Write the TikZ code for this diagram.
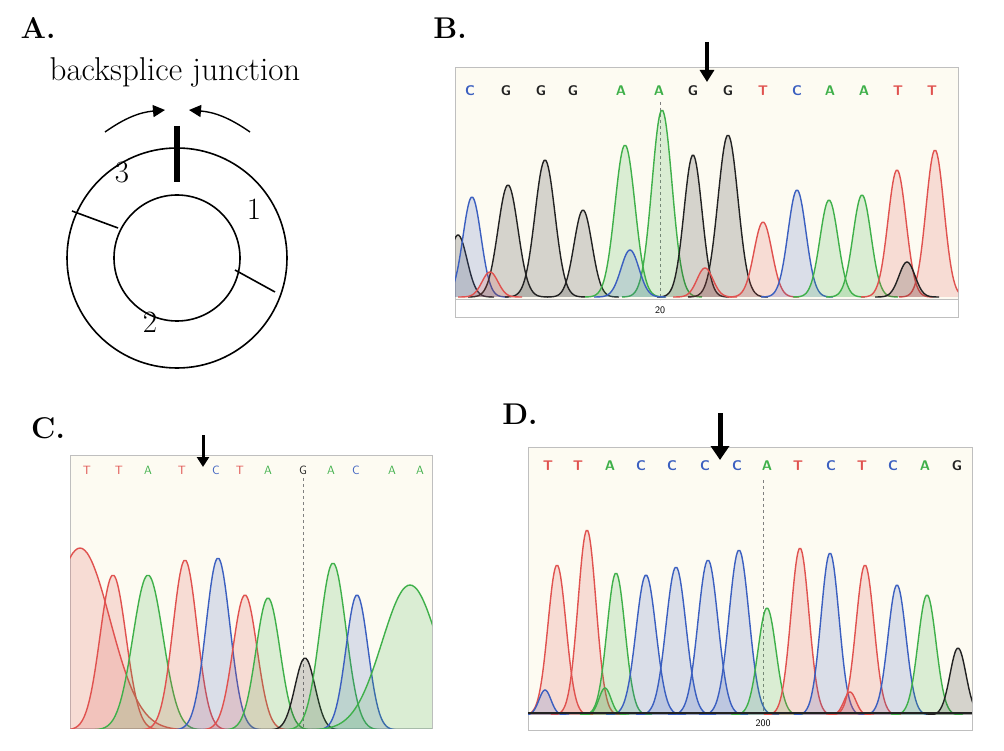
\documentclass[tikz,border=0pt]{standalone}
\usetikzlibrary{arrows.meta}
\definecolor{cr}{HTML}{E0524F}
\definecolor{cg}{HTML}{3FB04A}
\definecolor{cb}{HTML}{3B5FC0}
\definecolor{ck}{HTML}{222222}
\definecolor{bg}{HTML}{FDFBF2}
\newcommand\pk[5]{\draw[#1,line width=1.4pt,fill=#1,fill opacity=.18,draw opacity=1] plot[domain={#2-4*#5}:{#2+4*#5},samples=50,smooth] (\x,{#4-(#4-#3)*exp(-((\x-#2)/#5)^2/2)});}
\tikzset{panellab/.style={font=\fontsize{30}{34}\selectfont\bfseries},
 big/.style={font=\fontsize{31}{36}\selectfont},
 seqB/.style={font=\fontsize{14}{16}\selectfont\sffamily\bfseries},
 seqC/.style={font=\fontsize{12}{14}\selectfont\sffamily},
 dnarrow/.style={-{Triangle[length=12pt,width=14pt]},line width=4pt},
 box/.style={fill=bg,draw=gray!50,line width=1pt}}
\begin{document}
\begin{tikzpicture}[x=1pt,y=-1pt]
\useasboundingbox (0,0) rectangle (1004,751);
% ---- A
\node[panellab] (la) at (38,28) {A.};
\node[big,font=\fontsize{33}{38}\selectfont] (bj) at (175,72) {backsplice junction};
\draw[line width=1.6pt] (177,258) circle (110);
\draw[line width=1.6pt] (177,258) circle (63);
\draw[line width=6pt] (177,126) -- (177,182);
\draw[line width=1.4pt,-{Triangle[length=12pt,width=12pt]}] (105,132) to[bend left=15] (165,110);
\draw[line width=1.4pt,-{Triangle[length=12pt,width=12pt]}] (250,132) to[bend right=15] (189,110);
\draw[line width=1.6pt] (72,211) -- (118,228);
\draw[line width=1.6pt] (235,270) -- (275,292);
\node[big] (n3) at (122,173) {3};
\node[big] (n1) at (254,209) {1};
\node[big] (n2) at (150,322) {2};
% ---- B
\node[panellab] (lb) at (450,28) {B.};
\draw[box] (455,68) rectangle (958,318);
\draw[fill=white,draw=gray!50,line width=1pt] (455,300) rectangle (958,318);
\node[font=\fontsize{10}{12}\selectfont\sffamily] (t20) at (660,310) {20};
\draw[gray,dashed,thin] (660,102) -- (660,300);
\begin{scope}
\clip (455,100) rectangle (958,300);
\pk{ck}{458}{235}{297}{9}
\pk{cb}{472}{197}{297}{9}
\pk{ck}{508}{185}{297}{10}
\pk{ck}{545}{160}{297}{10}
\pk{ck}{583}{210}{297}{9}
\pk{cg}{625}{145}{297}{10}
\pk{cg}{662}{110}{297}{10}
\pk{ck}{693}{155}{297}{9}
\pk{ck}{728}{135}{297}{10}
\pk{cr}{763}{222}{297}{9}
\pk{cb}{797}{190}{297}{9}
\pk{cg}{829}{200}{297}{9}
\pk{cg}{862}{195}{297}{9}
\pk{cr}{897}{170}{297}{9}
\pk{cr}{935}{150}{297}{9}
\pk{cr}{490}{272}{297}{8}
\pk{cb}{630}{250}{297}{9}
\pk{cr}{705}{268}{297}{8}
\pk{ck}{907}{262}{297}{8}
\end{scope}
\foreach \t/\c/\x in {C/cb/470,G/ck/506,G/ck/541,G/ck/573,A/cg/621,A/cg/659,G/ck/693,G/ck/728,T/cr/763,C/cb/797,A/cg/830,A/cg/864,T/cr/898,T/cr/932}
 \node[seqB,text=\c] at (\x,91) {\t};
\draw[dnarrow] (707,42) -- (707,82);
% ---- C
\node[panellab] (lc) at (48,428) {C.};
\draw[box] (70,455) rectangle (432,728);
\draw[gray,dashed,thin] (303,478) -- (303,728);
\begin{scope}
\clip (70,480) rectangle (432,728);
\pk{cr}{80}{548}{730}{30}
\pk{cr}{113}{575}{730}{13}
\pk{cg}{148}{575}{730}{15}
\pk{cr}{185}{560}{730}{12}
\pk{cb}{218}{558}{730}{12}
\pk{cr}{245}{595}{730}{12}
\pk{cg}{268}{598}{730}{12}
\pk{ck}{305}{658}{730}{10}
\pk{cg}{333}{563}{730}{13}
\pk{cb}{357}{595}{730}{11}
\pk{cg}{410}{585}{730}{28}
\end{scope}
\foreach \t/\c/\x in {T/cr/87,T/cr/119,A/cg/148,T/cr/182,C/cb/216,T/cr/240,A/cg/268,G/ck/303,A/cg/331,C/cb/356,A/cg/392,A/cg/420}
 \node[seqC,text=\c] at (\x,470) {\t};
\draw[dnarrow,line width=3pt,-{Triangle[length=10pt,width=12pt]}] (203,435) -- (203,467);
% ---- D
\node[panellab] (ld) at (520,414) {D.};
\draw[box] (528,447) rectangle (972,730);
\draw[fill=white,draw=gray!50,line width=1pt] (528,714) rectangle (972,730);
\node[font=\fontsize{10}{12}\selectfont\sffamily] (t200) at (763,723) {200};
\draw[gray,dashed,thin] (763,480) -- (763,714);
\begin{scope}
\clip (528,480) rectangle (972,714);
\pk{cr}{557}{565}{715}{9}
\pk{cr}{587}{530}{715}{9}
\pk{cg}{616}{573}{715}{9}
\pk{cb}{646}{575}{715}{10}
\pk{cb}{676}{567}{715}{10}
\pk{cb}{708}{560}{715}{10}
\pk{cb}{739}{550}{715}{10}
\pk{cg}{767}{608}{715}{9}
\pk{cr}{800}{548}{715}{9}
\pk{cb}{830}{553}{715}{9}
\pk{cr}{865}{565}{715}{9}
\pk{cb}{897}{585}{715}{9}
\pk{cg}{927}{595}{715}{9}
\pk{ck}{958}{648}{715}{8}
\pk{cb}{545}{690}{715}{6}
\pk{cg}{605}{688}{715}{6}
\pk{cr}{850}{692}{715}{6}
\draw[ck,line width=2pt] (528,713) -- (972,713);
\end{scope}
\foreach \t/\c/\x in {T/cr/548,T/cr/578,A/cg/610,C/cb/641,C/cb/672,C/cb/705,C/cb/737,A/cg/767,T/cr/798,C/cb/831,T/cr/862,C/cb/893,A/cg/925,G/ck/957}
 \node[seqB,text=\c] at (\x,466) {\t};
\draw[dnarrow,line width=5pt,-{Triangle[length=14pt,width=18pt]}] (720,413) -- (720,460);
\end{tikzpicture}
\end{document}
